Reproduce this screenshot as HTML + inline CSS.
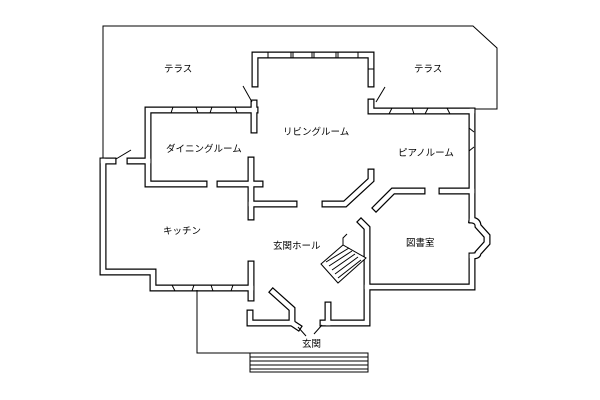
<!DOCTYPE html>
<html><head><meta charset="utf-8"><style>
html,body{margin:0;padding:0;background:#fff}
svg{display:block}
text{font-family:"Liberation Sans","Noto Sans CJK JP",sans-serif;font-size:9.5px;fill:#000}
</style></head><body>
<svg width="600" height="400" viewBox="0 0 600 400" xmlns="http://www.w3.org/2000/svg">
<defs>
<g id="walls" fill="none" stroke-linejoin="miter">
  <path d="M103,161 L103,272 L153,272 L153,288 L251,288"/>
  <path d="M251,264 L251,298"/>
  <path d="M113,161 L103,161"/>
  <path d="M130,161 L148,161"/>
  <path d="M148,161 L148,110 L255,110"/>
  <path d="M148,161 L148,184 L204,184"/>
  <path d="M254,103 L254,130"/>
  <path d="M255,84 L255,55 L371,55 L371,84"/>
  <path d="M371,102 L371,111 L472,111"/>
  <path d="M472,111 L472,220"/>
  <path d="M472,256 L472,287 L367,287"/>
  <path d="M472,220 Q478,221 478,226 L487,236 L487,243 L478,253 Q478,256 472,256" />
  <path d="M220,184 L260,184"/>
  <path d="M251,160 L251,217"/>
  <path d="M251,204 L294,204"/>
  <path d="M325,204 L345,204 L371,180 L371,172"/>
  <path d="M376,208 L393,191 L422,191"/>
  <path d="M442,191 L472,191"/>
  <path d="M361,222 L367,228 L367,323 L323,323"/>
  <path d="M328,323 L328,305"/>
  <path d="M273,292 L292,309 L292,323 L298,327"/>
  <path d="M250,313 L250,323 L292,323"/>
</g>
</defs>
<g stroke="#000" stroke-width="7" stroke-linecap="square"><use href="#walls"/></g>
<g stroke="#fff" stroke-width="4.6" stroke-linecap="square"><use href="#walls" transform="translate(0,0)"/></g>

<g fill="none" stroke="#000" stroke-width="1">
  <path d="M103,158 L103,26 L473,26 L497,48 L497,109 L475,109"/>
  <path d="M197,290 L197,353 L250,353"/>
  <rect x="250" y="353" width="118" height="19"/>
  <path d="M250,357 H368 M250,361 H368 M250,365 H368 M250,369 H368"/>
  <path d="M116,159 L131,150"/>
  <path d="M243,86 L252,102"/>
  <path d="M385,87 L376,102"/>
  <path d="M298,327 L306,336"/>
  <path d="M322,325 L314,334"/>
  <path d="M173,107 L171,113 M196,107 L198,113 M212,107 L210,113 M235,107 L237,113"/>
  <path d="M268,52 V58 M291,52 V58 M293,52 V58 M312,52 V58 M314,52 V58 M336,52 V58 M338,52 V58 M358,52 V58 M368,69 H374"/>
  <path d="M392,108 L389,114 M412,108 L414,114 M428,108 L425,114 M447,108 L450,114"/>
  <path d="M469,128 L474,132 M469,151 L474,147"/>
  <path d="M172,285 L175,291 M194,285 L192,291 M211,285 L213,291 M233,285 L231,291"/>
  <path d="M321,264 L343,245 L366,258 L338,283 Z" fill="#fff"/>
  <path d="M326,262 L349,248 M329,266 L352,251 M332,270 L355,254 M335,274 L358,257 M338,278 L361,260"/>
  <path d="M343,245 L343,238 L347,234"/>
</g>

<text x="164" y="72">テラス</text>
<text x="414" y="72">テラス</text>
<text x="283" y="135">リビングルーム</text>
<text x="166" y="152">ダイニングルーム</text>
<text x="398" y="156">ピアノルーム</text>
<text x="163" y="234">キッチン</text>
<text x="273" y="249">玄関ホール</text>
<text x="406" y="246">図書室</text>
<text x="302" y="347">玄関</text>
</svg>
</body></html>
